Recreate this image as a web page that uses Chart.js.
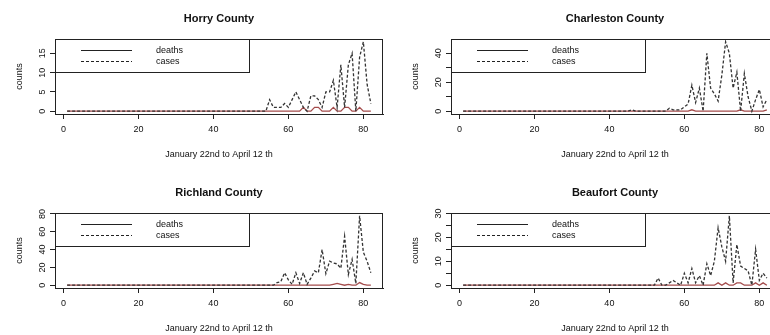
<!DOCTYPE html>
<html>
<head>
<meta charset="utf-8">
<script src="https://cdn.jsdelivr.net/npm/chart.js@4.4.1/dist/chart.umd.min.js"></script>
<style>
  html, body { margin: 0; padding: 0; background: #fff; overflow: hidden; width: 770px; height: 335px; position: relative; }
  canvas { position: absolute; }
  #horry { left: 0; top: 0; }
  #charleston { left: 396px; top: 0; }
  #richland { left: 0; top: 174px; }
  #beaufort { left: 396px; top: 174px; }
</style>
</head>
<body>
<canvas id="horry" width="385" height="168"></canvas>
<canvas id="charleston" width="385" height="168"></canvas>
<canvas id="richland" width="385" height="168"></canvas>
<canvas id="beaufort" width="385" height="168"></canvas>
<script>
Chart.defaults.font.family = '"Liberation Sans", Arial, sans-serif';
Chart.defaults.color = '#111';

// jours 1..82 (22 janvier -> 12 avril)
const days = [
  1,2,3,4,5,6,7,8,9,10, 11,12,13,14,15,16,17,18,19,20,
  21,22,23,24,25,26,27,28,29,30, 31,32,33,34,35,36,37,38,39,40,
  41,42,43,44,45,46,47,48,49,50, 51,52,53,54,55,56,57,58,59,60,
  61,62,63,64,65,66,67,68,69,70, 71,72,73,74,75,76,77,78,79,80,
  81,82
];
const xTicks = [0, 20, 40, 60, 80];
const xTitle = 'January 22nd to April 12 th';
const yTitle = 'counts';
const legendLabels = ['deaths', 'cases'];

const horryCases = [
  0,0,0,0,0,0,0,0,0,0, 0,0,0,0,0,0,0,0,0,0,
  0,0,0,0,0,0,0,0,0,0, 0,0,0,0,0,0,0,0,0,0,
  0,0,0,0,0,0,0,0,0,0, 0,0,0,0,3,1,1,1,2,1,
  3,5,3,1,0,4,4,3,1,5, 5,8,1,12,1,12,15,0,14,18,
  7,2
];
const horryDeaths = [
  0,0,0,0,0,0,0,0,0,0, 0,0,0,0,0,0,0,0,0,0,
  0,0,0,0,0,0,0,0,0,0, 0,0,0,0,0,0,0,0,0,0,
  0,0,0,0,0,0,0,0,0,0, 0,0,0,0,0,0,0,0,0,0,
  0,0,0,1,0,0,1,1,0,0, 0,1,0,0,1,1,0,0,1,0,
  0,0
];
const charlestonCases = [
  0,0,0,0,0,0,0,0,0,0, 0,0,0,0,0,0,0,0,0,0,
  0,0,0,0,0,0,0,0,0,0, 0,0,0,0,0,0,0,0,0,0,
  0,0,0,0,0,1,0,0,0,0, 0,0,0,0,0,2,1,1,1,3,
  5,18,6,16,0,40,16,12,7,25, 48,40,16,27,0,26,10,0,8,15,
  3,8
];
const charlestonDeaths = [
  0,0,0,0,0,0,0,0,0,0, 0,0,0,0,0,0,0,0,0,0,
  0,0,0,0,0,0,0,0,0,0, 0,0,0,0,0,0,0,0,0,0,
  0,0,0,0,0,0,0,0,0,0, 0,0,0,0,0,0,0,0,0,0,
  0,1,0,0,0,0,0,0,0,0, 0,0,0,0,1,0,0,0,0,0,
  0,1
];
const richlandCases = [
  0,0,0,0,0,0,0,0,0,0, 0,0,0,0,0,0,0,0,0,0,
  0,0,0,0,0,0,0,0,0,0, 0,0,0,0,0,0,0,0,0,0,
  0,0,0,0,0,0,0,0,0,0, 0,0,0,0,0,0,3,4,14,6,
  1,14,2,14,1,8,16,14,40,13, 27,25,24,19,55,12,29,2,78,37,
  27,14
];
const richlandDeaths = [
  0,0,0,0,0,0,0,0,0,0, 0,0,0,0,0,0,0,0,0,0,
  0,0,0,0,0,0,0,0,0,0, 0,0,0,0,0,0,0,0,0,0,
  0,0,0,0,0,0,0,0,0,0, 0,0,0,0,0,0,0,0,0,0,
  0,0,0,0,0,0,0,0,0,0, 0,1,2,1,0,1,0,0,3,1,
  0,0
];
const beaufortCases = [
  0,0,0,0,0,0,0,0,0,0, 0,0,0,0,0,0,0,0,0,0,
  0,0,0,0,0,0,0,0,0,0, 0,0,0,0,0,0,0,0,0,0,
  0,0,0,0,0,0,0,0,0,0, 0,0,3,0,0,1,2,1,0,5,
  1,7,1,4,0,9,4,10,24,16, 10,29,1,17,8,7,6,0,15,2,
  5,3
];
const beaufortDeaths = [
  0,0,0,0,0,0,0,0,0,0, 0,0,0,0,0,0,0,0,0,0,
  0,0,0,0,0,0,0,0,0,0, 0,0,0,0,0,0,0,0,0,0,
  0,0,0,0,0,0,0,0,0,0, 0,0,0,0,0,0,0,0,0,0,
  0,0,0,0,0,0,0,0,1,0, 1,0,0,1,1,0,0,0,1,0,
  1,0
];

// ticks de l'axe y + libelles (vide = tick sans libelle, comme R)
const horryYTicks = [0, 5, 10, 15];
const horryYLabels = ['0', '5', '10', '15'];
const charlestonYTicks = [0, 10, 20, 30, 40];
const charlestonYLabels = ['0', '', '20', '', '40'];
const richlandYTicks = [0, 20, 40, 60, 80];
const richlandYLabels = ['0', '20', '40', '60', '80'];
const beaufortYTicks = [0, 5, 10, 15, 20, 25, 30];
const beaufortYLabels = ['0', '', '10', '', '20', '', '30'];

const INK = '#222';
const DEATH_COLOR = '#a44c4c';

// boite du graphe, legende et libelles y tournes facon R
const rStyle = {
  id: 'rStyle',
  afterDraw(chart, args, opts) {
    const ctx = chart.ctx;
    const ca = chart.chartArea;
    const ys = chart.scales.y;
    ctx.save();
    ctx.strokeStyle = INK;
    ctx.lineWidth = 1;
    ctx.strokeRect(Math.round(ca.left) + 0.5, Math.round(ca.top) + 0.5,
                   Math.round(ca.width) - 1, Math.round(ca.bottom - ca.top));

    // legende
    const lx = Math.round(ca.left), ly = Math.round(ca.top);
    ctx.fillStyle = '#fff';
    ctx.fillRect(lx + 1, ly + 1, 193, 33);
    ctx.strokeRect(lx + 0.5, ly + 0.5, 194, 33);
    ctx.font = '9px "Liberation Sans", Arial, sans-serif';
    ctx.fillStyle = '#111';
    ctx.textAlign = 'left';
    ctx.textBaseline = 'middle';
    legendLabels.forEach((lab, i) => {
      const yy = ly + 11.5 + i * 11;
      ctx.setLineDash(i === 0 ? [] : [3, 2]);
      ctx.beginPath();
      ctx.moveTo(lx + 26, yy);
      ctx.lineTo(lx + 77, yy);
      ctx.stroke();
      ctx.fillText(lab, lx + 101, yy);
    });
    ctx.setLineDash([]);

    // libelles y verticaux
    ctx.textAlign = 'center';
    opts.ticks.forEach((v, i) => {
      if (!opts.labels[i]) return;
      const py = ys.getPixelForValue(v);
      ctx.save();
      ctx.translate(ca.left - 12, py);
      ctx.rotate(-Math.PI / 2);
      ctx.fillText(opts.labels[i], 0, 0);
      ctx.restore();
    });
    ctx.restore();
  }
};

function makeChart(id, title, cases, deaths, yTicks, yLabels) {
  const top = Math.max(...cases);
  const xMin = days[0] - 0.04 * (days[days.length - 1] - days[0]);
  const xMax = days[days.length - 1] + 0.04 * (days[days.length - 1] - days[0]);
  const axisStyle = {
    grid: { display: true, drawOnChartArea: false, drawTicks: true, tickLength: 5, color: INK },
    border: { display: true, color: INK }
  };
  return new Chart(document.getElementById(id), {
    type: 'line',
    data: {
      datasets: [
        {
          label: 'cases',
          data: days.map((d, i) => ({ x: d, y: cases[i] })),
          borderColor: '#333',
          borderWidth: 1.3,
          borderDash: [3, 2],
          pointRadius: 0,
          tension: 0
        },
        {
          label: 'deaths',
          data: days.map((d, i) => ({ x: d, y: deaths[i] })),
          borderColor: DEATH_COLOR,
          borderWidth: 1.3,
          pointRadius: 0,
          tension: 0
        }
      ]
    },
    options: {
      responsive: false,
      animation: false,
      devicePixelRatio: 1,
      layout: { padding: { left: 0, right: 2, top: 0, bottom: 0 } },
      plugins: {
        legend: { display: false },
        tooltip: { enabled: false },
        title: {
          display: true,
          text: title,
          fullSize: false,
          color: '#111',
          font: { size: 11, weight: 'bold' },
          padding: { top: 12.4, bottom: 13.4 }
        },
        rStyle: { ticks: yTicks, labels: yLabels }
      },
      scales: {
        x: {
          type: 'linear',
          min: xMin,
          max: xMax,
          ...axisStyle,
          afterBuildTicks: s => { s.ticks = xTicks.map(v => ({ value: v })); },
          afterFit: s => { s.height = 54; },
          ticks: { autoSkip: false, maxRotation: 0, padding: 5, font: { size: 9 }, color: '#111' },
          title: { display: true, text: xTitle, font: { size: 9 }, color: '#111', padding: { top: 0, bottom: 7.6 } }
        },
        y: {
          type: 'linear',
          min: -0.04 * top,
          max: top * 1.04,
          ...axisStyle,
          afterBuildTicks: s => { s.ticks = yTicks.map(v => ({ value: v })); },
          afterFit: s => { s.width = 55; },
          ticks: { display: false },
          title: { display: true, text: yTitle, font: { size: 9 }, color: '#111', padding: { top: 14.6, bottom: 0 } }
        }
      }
    },
    plugins: [rStyle]
  });
}

makeChart('horry', 'Horry County', horryCases, horryDeaths, horryYTicks, horryYLabels);
makeChart('charleston', 'Charleston County', charlestonCases, charlestonDeaths, charlestonYTicks, charlestonYLabels);
makeChart('richland', 'Richland County', richlandCases, richlandDeaths, richlandYTicks, richlandYLabels);
makeChart('beaufort', 'Beaufort County', beaufortCases, beaufortDeaths, beaufortYTicks, beaufortYLabels);
</script>
</body>
</html>
